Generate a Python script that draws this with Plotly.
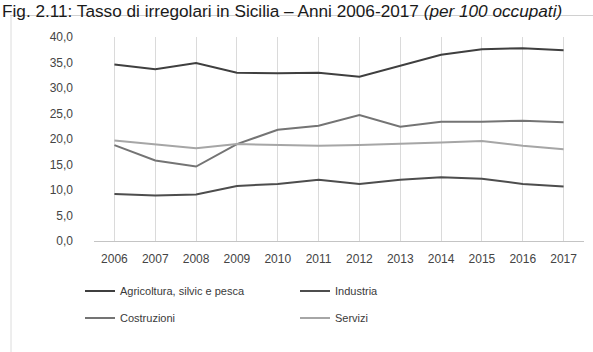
import plotly.graph_objects as go

# Tasso di irregolari per settore, Sicilia 2006-2017 (per 100 occupati)
anni = ["2006", "2007", "2008", "2009", "2010", "2011",
        "2012", "2013", "2014", "2015", "2016", "2017"]
agricoltura = [34.6, 33.7, 34.9, 33.0, 32.9, 33.0, 32.2, 34.4, 36.5, 37.6, 37.8, 37.4]
industria = [9.2, 8.9, 9.1, 10.8, 11.2, 12.0, 11.2, 12.0, 12.5, 12.2, 11.2, 10.7]
costruzioni = [18.8, 15.8, 14.6, 19.0, 21.8, 22.6, 24.7, 22.4, 23.4, 23.4, 23.6, 23.3]
servizi = [19.7, 19.0, 18.2, 19.0, 18.8, 18.7, 18.8, 19.0, 19.3, 19.6, 18.7, 18.0]

serie = [
    ("Agricoltura, silvic e pesca", agricoltura, "#3f3f3f", "legend"),
    ("Industria", industria, "#4d4d4d", "legend"),
    ("Costruzioni", costruzioni, "#747474", "legend2"),
    ("Servizi", servizi, "#a6a6a6", "legend2"),
]

FONT = "Liberation Sans, Arial, sans-serif"
W, H = 593, 352
ML, MR, MT, MB = 94, 9, 37, 111
PW, PH = W - ML - MR, H - MT - MB


def px_x(p):
    return (p - ML) / PW


def px_y(p):
    return (H - MB - p) / PH


fig = go.Figure()
for nome, valori, colore, leg in serie:
    fig.add_trace(go.Scatter(
        x=anni, y=valori, name=nome, mode="lines",
        line=dict(color=colore, width=2),
        legend=leg,
    ))

legend_common = dict(
    orientation="h",
    font=dict(family=FONT, size=11, color="#3a3a3a"),
    bgcolor="rgba(0,0,0,0)",
    entrywidth=170, entrywidthmode="pixels",
    xanchor="left", yanchor="middle",
    itemwidth=30,
)

fig.update_layout(
    width=W, height=H,
    margin=dict(l=ML, r=MR, t=MT, b=MB),
    paper_bgcolor="white", plot_bgcolor="white",
    separators=",.",
    font=dict(family=FONT, size=11, color="#444444"),
    showlegend=True,
    legend=dict(x=px_x(80), y=px_y(291), **legend_common),
    legend2=dict(x=px_x(80), y=px_y(318), **legend_common),
    xaxis=dict(
        type="category", range=[-0.5, 11.5],
        showgrid=True, gridcolor="#dadada", gridwidth=1,
        showline=True, linecolor="#c4c4c4", linewidth=1,
        ticks="", tickfont=dict(family=FONT, size=12, color="#444444"),
        ticklabelstandoff=7,
    ),
    yaxis=dict(
        range=[0, 40], tickvals=[0, 5, 10, 15, 20, 25, 30, 35, 40],
        tickformat=".1f",
        showgrid=False, zeroline=False, showline=False,
        ticks="", tickfont=dict(family=FONT, size=12, color="#444444"),
        ticklabelstandoff=20,
    ),
    shapes=[
        dict(type="line", xref="paper", yref="paper",
             x0=px_x(10), x1=px_x(593), y0=px_y(15.5), y1=px_y(15.5),
             line=dict(color="#d0d0d0", width=1)),
        dict(type="line", xref="paper", yref="paper",
             x0=px_x(11), x1=px_x(11), y0=px_y(15.5), y1=px_y(352),
             line=dict(color="#dcdcdc", width=1)),
    ],
    annotations=[
        dict(
            text="Fig. 2.11: Tasso di irregolari in Sicilia – Anni 2006-2017 <i>(per 100 occupati)</i>",
            xref="paper", yref="paper", x=px_x(0), y=px_y(-1),
            xanchor="left", yanchor="top", showarrow=False,
            font=dict(family=FONT, size=17.2, color="#1a1a1a"),
        )
    ],
)

fig.write_html("out.html")
